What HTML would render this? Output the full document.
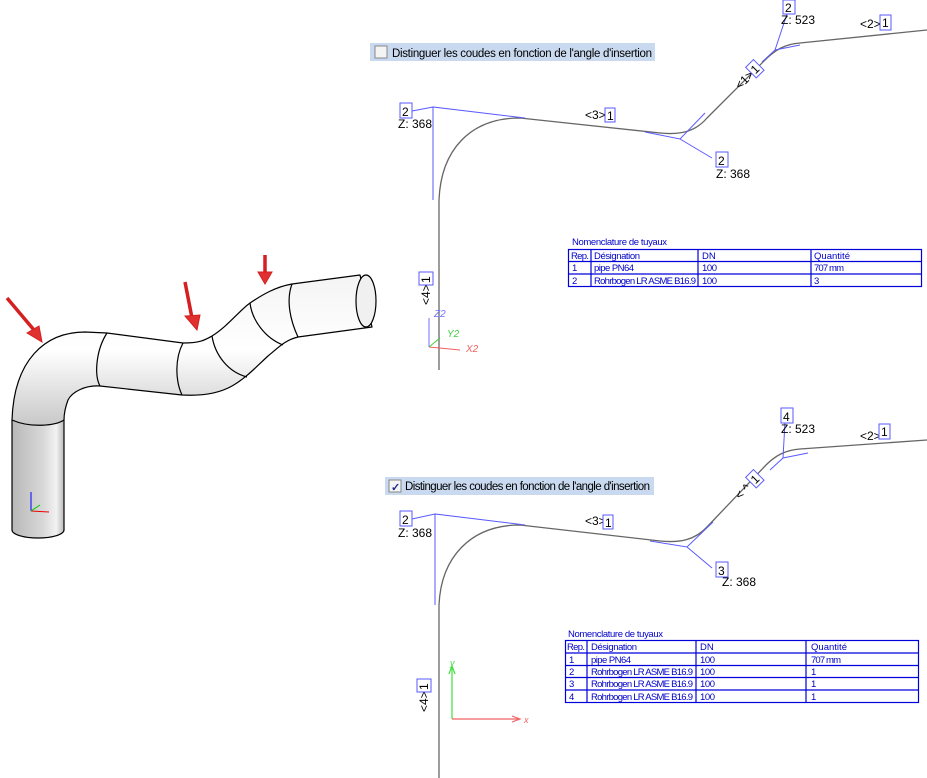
<!DOCTYPE html>
<html><head><meta charset="utf-8"><style>
html,body{margin:0;padding:0;background:#fff;}
svg{display:block;}
.t{font-family:"Liberation Sans",sans-serif;font-size:12px;fill:#000;}
.tb{font-family:"Liberation Sans",sans-serif;font-size:9.5px;fill:#0000c8;}
.cb{font-family:"Liberation Sans",sans-serif;font-size:11.5px;fill:#000;}
</style></head><body>
<svg width="927" height="778" viewBox="0 0 927 778" xmlns="http://www.w3.org/2000/svg">
<defs>
<linearGradient id="g1" x1="0" y1="0" x2="0" y2="1"><stop offset="0" stop-color="#f4f4f4"/><stop offset="0.5" stop-color="#fff"/><stop offset="1" stop-color="#c8c8c8"/></linearGradient>
<linearGradient id="g2" x1="0" y1="0" x2="1" y2="0"><stop offset="0" stop-color="#b8b8b8"/><stop offset="0.6" stop-color="#d8d8d8"/><stop offset="0.85" stop-color="#f2f2f2"/><stop offset="1" stop-color="#bbb"/></linearGradient>
</defs>
<!-- 3D pipe -->
<g stroke="#000" stroke-width="1.2" stroke-linejoin="round">
<path d="M12,420 L12,530 A26,8 0 0 0 64,530 L64,420 Z" fill="url(#g2)"/>
<path d="M12,420 C14,360 45,332 85,332 L107,333 L183,343 C200,343 205,340 212,336 C228,326 240,310 250,303 C262,295 275,287 292,284 L360,275 L372,327 L298,337 C285,340 278,348 268,356 C255,368 246,378 232,386 C218,394 200,396 182,395 L100,386 C85,385 72,392 68,400 C65,408 64,414 64,420 C55,426 30,428 12,420 Z" fill="url(#g1)"/>
<ellipse cx="366" cy="301" rx="10" ry="26" fill="#f0f0f0"/>
<path d="M107,333 C96,350 94,375 100,386" fill="none"/>
<path d="M183,343 C175,358 175,380 182,395" fill="none"/>
<path d="M212,336 C215,355 228,372 247,377" fill="none"/>
<path d="M250,303 C252,320 265,338 283,345" fill="none"/>
<path d="M292,284 C286,300 290,320 298,337" fill="none"/>
</g>
<g stroke="#d42020" fill="#e03030">
<line x1="7" y1="298" x2="34" y2="330" stroke-width="3.5"/><polygon points="27,333 42,342 39,326"/>
<line x1="185" y1="282" x2="192" y2="318" stroke-width="3.5"/><polygon points="185,316 197,330 200,315"/>
<line x1="265" y1="255" x2="265" y2="273" stroke-width="3.5"/><polygon points="258,272 265,284 272,272"/>
</g>
<g stroke-width="1"><line x1="31" y1="511" x2="31" y2="492" stroke="#0000ff"/><line x1="31" y1="511" x2="49" y2="512" stroke="#e00"/><line x1="31" y1="511" x2="40" y2="505" stroke="#0c0"/></g>

<!-- TOP checkbox -->
<rect x="370" y="43" width="285" height="18" fill="#c9d9ef"/>
<rect x="375" y="46" width="12" height="12" fill="#f4f4f4" stroke="#888"/>
<text class="cb" x="392" y="57" textLength="260">Distinguer les coudes en fonction de l'angle d'insertion</text>

<!-- TOP schematic -->
<g fill="none">
<path d="M439,370 L439,200 C441,150 470,118 520,118 L660,133 C680,135 695,132 707,118 L765,60 C775,50 785,44 800,43 L927,30" stroke="#666" stroke-width="1.3"/>
<path d="M433,200 L433,107 L525,118 M412,111 L433,107 M645,132 L680,139 L705,113 M680,139 L712,158 M762,62 L775,50 L800,45 M775,50 L787,14" stroke="#5a5aff" stroke-width="1"/>
</g>
<g class="t">
<rect x="400" y="103" width="12" height="15" fill="#fff" stroke="#5a5aff"/><text x="402" y="116">2</text><text x="398" y="128">Z: 368</text>
<text x="585" y="119">&lt;3&gt;</text><rect x="605" y="108" width="10" height="14" fill="#fff" stroke="#5a5aff"/><text x="607" y="120">1</text>
<rect x="716" y="152" width="12" height="15" fill="#fff" stroke="#5a5aff"/><text x="718" y="165">2</text><text x="716" y="178">Z: 368</text>
<rect x="783" y="0" width="12" height="14" fill="#fff" stroke="#5a5aff"/><text x="785" y="12">2</text><text x="781" y="24">Z: 523</text>
<text x="860" y="28">&lt;2&gt;</text><rect x="880" y="15" width="11" height="15" fill="#fff" stroke="#5a5aff"/><text x="882" y="27">1</text>
<g transform="translate(740,90) rotate(-45)"><text x="0" y="0">&lt;1&gt;</text><rect x="20" y="-12" width="11" height="15" fill="#fff" stroke="#5a5aff"/><text x="22" y="0">1</text></g>
<g transform="translate(430,305) rotate(-90)"><text x="0" y="0">&lt;4&gt;</text><rect x="20" y="-11" width="13" height="14" fill="#fff" stroke="#5a5aff"/><text x="22" y="0">1</text></g>
</g>
<g stroke-width="1" fill="none"><line x1="429" y1="347" x2="429" y2="318" stroke="#7070ff"/><line x1="429" y1="347" x2="460" y2="350" stroke="#f06060"/><line x1="429" y1="347" x2="440" y2="338" stroke="#40d040"/></g>
<text x="434" y="317" style="font:italic 10px 'Liberation Sans',sans-serif;fill:#7070ff">Z2</text>
<text x="447" y="337" style="font:italic 10px 'Liberation Sans',sans-serif;fill:#40d040">Y2</text>
<text x="466" y="352" style="font:italic 10px 'Liberation Sans',sans-serif;fill:#f06060">X2</text>

<!-- TOP table -->
<text class="tb" x="572" y="245" textLength="95">Nomenclature de tuyaux</text>
<g stroke="#0000dd" stroke-width="1.2" fill="none">
<rect x="568.5" y="249.5" width="353" height="37"/>
<line x1="568" y1="261.5" x2="922" y2="261.5"/><line x1="568" y1="274" x2="922" y2="274"/>
<line x1="591" y1="249" x2="591" y2="287"/><line x1="698" y1="249" x2="698" y2="287"/><line x1="811" y1="249" x2="811" y2="287"/>
</g>
<g class="tb"><text x="571" y="259" textLength="18">Rep.</text><text x="594" y="259" textLength="46">Désignation</text><text x="702" y="259">DN</text><text x="814" y="259" textLength="36">Quantité</text>
<text x="572" y="271">1</text><text x="594" y="271" textLength="40">pipe PN64</text><text x="702" y="271" textLength="15">100</text><text x="814" y="271" textLength="30">707 mm</text>
<text x="572" y="284">2</text><text x="594" y="284" textLength="102">Rohrbogen LR ASME B16.9</text><text x="702" y="284" textLength="15">100</text><text x="814" y="284">3</text></g>

<!-- BOTTOM checkbox -->
<rect x="385" y="477" width="269" height="18" fill="#c9d9ef"/>
<rect x="389" y="480" width="12" height="12" fill="#f4f4f4" stroke="#888"/>
<text x="391" y="491" style="font:bold 11px 'Liberation Sans',sans-serif;fill:#1a2a8a">✓</text>
<text class="cb" x="405" y="490" textLength="245">Distinguer les coudes en fonction de l'angle d'insertion</text>

<!-- BOTTOM schematic -->
<g fill="none">
<path d="M439,778 L439,605 C441,558 470,525 520,525 L660,541 C680,543 695,540 707,527 L766,465 C775,456 785,450 800,449 L927,440" stroke="#666" stroke-width="1.3"/>
<path d="M435,605 L435,514 L525,525 M412,519 L435,514 M650,541 L687,547 L713,522 M687,547 L712,568 M770,470 L783,458 L808,453 M783,458 L785,422" stroke="#5a5aff" stroke-width="1"/>
</g>
<g class="t">
<rect x="400" y="511" width="12" height="15" fill="#fff" stroke="#5a5aff"/><text x="402" y="524">2</text><text x="398" y="537">Z: 368</text>
<text x="585" y="525">&lt;3&gt;</text><rect x="603" y="515" width="10" height="14" fill="#fff" stroke="#5a5aff"/><text x="605" y="527">1</text>
<rect x="716" y="562" width="12" height="15" fill="#fff" stroke="#5a5aff"/><text x="718" y="575">3</text><text x="722" y="586">Z: 368</text>
<rect x="781" y="408" width="12" height="15" fill="#fff" stroke="#5a5aff"/><text x="783" y="421">4</text><text x="781" y="433">Z: 523</text>
<text x="860" y="440">&lt;2&gt;</text><rect x="879" y="424" width="11" height="15" fill="#fff" stroke="#5a5aff"/><text x="881" y="436">1</text>
<g transform="translate(740,500) rotate(-45)"><text x="0" y="0">&lt; ^ &gt;</text><rect x="20" y="-12" width="11" height="15" fill="#fff" stroke="#5a5aff"/><text x="22" y="0">1</text></g>
<g transform="translate(428,712) rotate(-90)"><text x="0" y="0">&lt;4&gt;</text><rect x="20" y="-11" width="13" height="14" fill="#fff" stroke="#5a5aff"/><text x="22" y="0">1</text></g>
</g>
<g stroke-width="1.2" fill="none"><line x1="452" y1="719" x2="452" y2="668" stroke="#40e040"/><polyline points="449,674 452,666 455,674" stroke="#40e040"/><line x1="452" y1="719" x2="518" y2="719" stroke="#f06060"/><polyline points="512,716 520,719 512,722" stroke="#f06060"/></g>
<text x="450" y="666" style="font:italic 9px 'Liberation Sans',sans-serif;fill:#40e040">y</text>
<text x="524" y="723" style="font:italic 9px 'Liberation Sans',sans-serif;fill:#f06060">x</text>

<!-- BOTTOM table -->
<text class="tb" x="568" y="637" textLength="95">Nomenclature de tuyaux</text>
<g stroke="#0000dd" stroke-width="1.2" fill="none">
<rect x="565.5" y="640.5" width="353" height="62"/>
<line x1="565" y1="653" x2="919" y2="653"/><line x1="565" y1="665.5" x2="919" y2="665.5"/><line x1="565" y1="677.5" x2="919" y2="677.5"/><line x1="565" y1="690" x2="919" y2="690"/>
<line x1="587" y1="640" x2="587" y2="703"/><line x1="696" y1="640" x2="696" y2="703"/><line x1="806" y1="640" x2="806" y2="703"/>
</g>
<g class="tb"><text x="567" y="650" textLength="18">Rep.</text><text x="591" y="650" textLength="46">Désignation</text><text x="700" y="650">DN</text><text x="811" y="650" textLength="36">Quantité</text>
<text x="569" y="663">1</text><text x="591" y="663" textLength="40">pipe PN64</text><text x="700" y="663" textLength="15">100</text><text x="811" y="663" textLength="30">707 mm</text>
<text x="569" y="675">2</text><text x="591" y="675" textLength="102">Rohrbogen LR ASME B16.9</text><text x="700" y="675" textLength="15">100</text><text x="811" y="675">1</text>
<text x="569" y="687">3</text><text x="591" y="687" textLength="102">Rohrbogen LR ASME B16.9</text><text x="700" y="687" textLength="15">100</text><text x="811" y="687">1</text>
<text x="569" y="700">4</text><text x="591" y="700" textLength="102">Rohrbogen LR ASME B16.9</text><text x="700" y="700" textLength="15">100</text><text x="811" y="700">1</text></g>
</svg>
</body></html>
